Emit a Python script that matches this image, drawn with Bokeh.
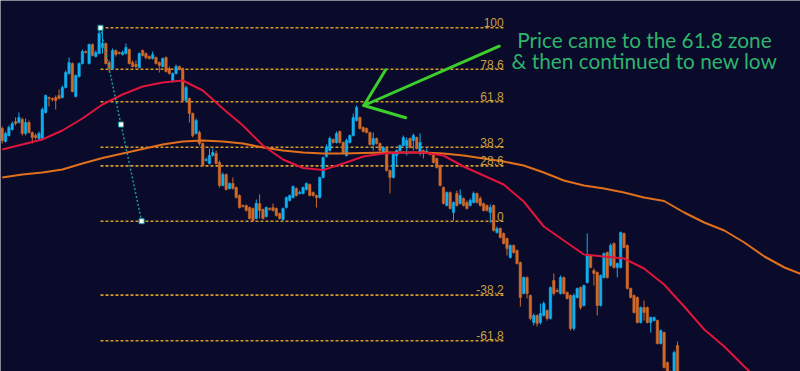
from bokeh.plotting import figure
from bokeh.models import Range1d
from bokeh.core.properties import value
from bokeh.embed import file_html
from bokeh.resources import INLINE

# ---- candle data (index, price units) ----
opens = [272,259,265,271,279,278,281,267,278,268,265,262,262,288,303,302,303,305,303,313,
         327,337,304,324,337,349,337,356,344,347,353,357,338,332,350,348,346,347,351,338,
         336,333,350,347,344,342,343,338,334,343,332,320,327,334,332,300,302,287,267,268,
         257,240,237,245,247,238,215,226,212,217,213,205,195,195,193,192,182,197,191,184,
         192,193,192,187,181,193,200,203,212,207,207,211,216,208,205,203,223,244,250,261,
         258,269,258,245,258,265,280,283,273,272,268,256,262,257,247,252,230,223,245,250,
         255,255,262,260,263,248,250,248,247,247,242,235,213,195,208,188,207,197,202,198,
         195,198,207,202,197,195,188,195,168,172,167,162,143,155,150,138,107,123,105,78,
         85,78,85,90,82,120,110,107,123,108,105,72,103,113,95,118,145,130,128,95,
         123,148,135,157,133,133,167,155,112,105,103,78,93,93,78,80,80,57,68,38,
         25,29,55]
closes = [260,267,273,277,277,283,267,278,268,263,263,267,291,305,302,301,300,302,313,328,
          338,309,325,337,349,348,356,345,348,367,357,337,332,350,346,347,348,353,337,334,
          334,347,345,343,342,346,337,335,342,329,327,327,334,331,300,313,287,265,280,257,
          235,241,245,248,237,215,226,211,217,212,203,193,194,190,182,180,197,190,182,193,
          191,190,185,182,192,203,205,214,205,208,213,217,205,205,203,223,243,253,262,258,
          267,258,248,260,265,283,293,272,269,268,256,262,257,250,253,230,223,247,250,255,
          263,260,253,265,252,258,247,249,246,238,233,215,197,208,192,198,195,205,195,192,
          200,207,198,195,190,190,193,170,172,163,157,152,155,148,137,103,123,107,82,85,
          77,87,97,82,113,107,109,123,107,102,72,105,112,93,115,145,133,127,95,125,
          147,123,155,133,137,168,153,112,103,88,78,93,88,78,83,83,57,70,33,29,
          20,48,25]
highs = [274,269,275,279,283,288,283,282,280,269,267,269,293,306,304,303,305,311,315,330,
         343,338,326,338,351,350,357,357,350,373,370,358,340,352,351,349,350,357,352,340,
         340,348,351,348,345,349,344,339,343,344,334,328,336,335,333,315,303,288,282,270,
         258,243,252,252,250,240,228,227,218,223,214,206,196,196,194,193,201,206,192,194,
         193,197,193,188,193,204,206,215,213,210,214,218,217,209,206,224,244,256,264,262,
         269,270,259,262,266,287,295,284,274,273,269,268,263,258,254,253,231,248,251,256,
         265,263,263,267,264,267,251,252,248,248,243,236,214,209,209,199,210,211,203,200,
         202,209,208,204,198,196,196,196,174,173,168,163,156,156,151,139,124,124,106,87,
         86,97,99,91,114,127,112,125,124,109,106,107,113,114,116,167,146,132,129,126,
         148,149,157,158,138,169,168,156,113,106,104,94,100,94,84,84,81,71,69,39,
         30,50,59]
lows = [257,258,264,270,275,277,265,265,267,257,261,260,261,287,294,299,291,301,302,312,
        326,308,303,323,336,347,336,344,343,346,347,336,328,331,344,346,345,346,336,333,
        332,332,344,341,341,341,336,328,333,328,326,318,326,330,299,299,278,263,266,255,
        234,239,236,244,236,213,214,210,211,211,202,192,193,189,181,179,181,182,181,183,
        190,189,184,181,180,192,199,202,204,206,206,210,204,204,193,202,222,243,249,257,
        257,257,247,244,257,264,279,271,268,267,255,250,256,249,246,229,207,222,235,249,
        254,245,252,250,251,245,242,247,245,237,232,214,196,194,191,180,194,196,194,191,
        194,197,197,194,189,189,178,169,167,162,156,145,142,147,136,94,106,102,80,75,
        74,76,84,80,81,105,108,106,106,101,70,70,102,91,94,117,132,115,85,94,
        122,122,134,132,123,132,152,111,102,87,77,77,80,77,68,79,56,56,32,20,
        15,25,20]

# ---- moving averages (sampled every 6 candles) ----
ma_fast_idx = list(range(0, 229, 6))
ma_fast = [251,256,261,270,282,296,306,314,318,320,310,292,275,255,241,232.5,230.5,237,244,247,
           248,248,245,234,225,216,199,174,160,146,144,142,132,116,94,71,54,34,15]
ma_slow_idx = list(range(0, 241, 6))
ma_slow = [223,226,228,231,237,242.5,247,251.5,256,259,260,259,257,253,250,248,247,247,247.5,248,
           248,248,247,245,242,239,235,228,220,215,212,208,203,199.5,188,178,170,158,144,133,125]

# ---- Fibonacci retracement ----
fib_high = 372.7
fib_low = 179.3
fib_anchor_x = [29.4, 41.7]
fib_right_x = 150.0
fib_levels = [100, 78.6, 61.8, 38.2, 28.6, 0, -38.2, -61.8]
fib_labels = ["100", "78.6", "61.8", "38.2", "28.6", "0", "-38.2", "-61.8"]

# ---- arrow annotation ----
arrow_tail = (148.7, 354.3)
arrow_tip = (108.2, 295.0)
arrow_barbs = [(114.7, 330.7), (120.7, 282.7)]
note_lines = ["Price came to the 61.8 zone", "& then continued to new low"]
note_x = 192.1
note_y = [361, 340]

BG = "#0a0a2a"
BULL = "#10b0f0"
BEAR = "#d06a28"

p = figure(width=800, height=371, output_backend="svg", toolbar_location=None,
           x_range=Range1d(-0.51, 238.8), y_range=Range1d(29, 400),
           min_border=0, min_border_left=0, min_border_right=0,
           min_border_top=0, min_border_bottom=0)
p.axis.visible = False
p.grid.visible = False
p.outline_line_color = None
p.background_fill_color = BG
p.border_fill_color = BG

# fib lines
fib_prices = [fib_low + (fib_high - fib_low) * lv / 100.0 for lv in fib_levels]
p.segment(x0=[fib_anchor_x[0]] * len(fib_prices), x1=[fib_right_x] * len(fib_prices),
          y0=fib_prices, y1=fib_prices, line_color="#d49a2a", line_width=1.6, line_dash="3 2")

# candles
idx = list(range(len(opens)))
colors = [BULL if c >= o else BEAR for o, c in zip(opens, closes)]
tops = [max(o, c) for o, c in zip(opens, closes)]
bots = [min(o, c) for o, c in zip(opens, closes)]
p.segment(x0=idx, x1=idx, y0=lows, y1=highs, line_color=colors, line_width=1)
p.vbar(x=idx, width=0.75, top=tops, bottom=bots, fill_color=colors, line_color=colors, line_width=0.5)

# moving averages
p.line(ma_slow_idx, ma_slow, line_color="#e0701c", line_width=2)
p.line(ma_fast_idx, ma_fast, line_color="#e0143c", line_width=2)

# fib trend line
p.line(fib_anchor_x, [fib_high, fib_low], line_color="#1a9a9a", line_width=1.5, line_dash="2 2")
mid = [(fib_anchor_x[0] + fib_anchor_x[1]) / 2.0]
p.scatter(fib_anchor_x + mid, [fib_high, fib_low, (fib_high + fib_low) / 2.0], marker="square",
          size=5, fill_color="white", line_color="#1a9a9a", line_width=1)

# fib labels
p.text(x=[fib_right_x] * len(fib_prices), y=[v + 0.6 for v in fib_prices], text=fib_labels,
       text_align="right", text_baseline="bottom", text_color="#c8a040",
       text_font=value("Liberation Sans"), text_font_size="12px")

# arrow
p.segment(x0=[arrow_tail[0], arrow_tip[0], arrow_tip[0]], y0=[arrow_tail[1], arrow_tip[1], arrow_tip[1]],
          x1=[arrow_tip[0], arrow_barbs[0][0], arrow_barbs[1][0]],
          y1=[arrow_tip[1], arrow_barbs[0][1], arrow_barbs[1][1]],
          line_color="#3ccf2c", line_width=3, line_cap="round")

# note
p.text(x=[note_x, note_x], y=note_y, text=note_lines, text_align="center", text_baseline="middle",
       text_color="#2fb46c", text_font=value("Lato"), text_font_size="20.8px")

open("out.html", "w").write(file_html(p, INLINE))
